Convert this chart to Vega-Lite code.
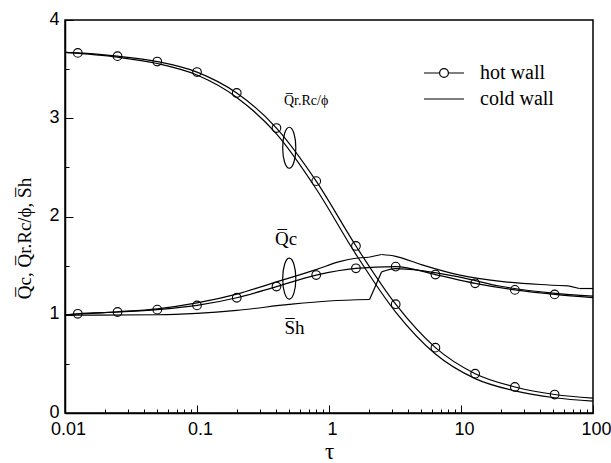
{
  "$schema": "https://vega.github.io/schema/vega-lite/v6.json",
  "width": 528,
  "height": 393,
  "autosize": "none",
  "padding": {"left": 65, "top": 20, "right": 18, "bottom": 50},
  "background": "white",
  "config": {
    "view": {"stroke": "black", "strokeWidth": 1.5},
    "axis": {"grid": false, "domainColor": "black", "domainWidth": 1.5, "tickColor": "black", "tickWidth": 1, "labelFont": "Liberation Sans", "labelFontSize": 18, "labelColor": "black", "titleFont": "Liberation Serif", "titleFontWeight": "normal", "titleColor": "black"}
  },
  "datasets": {
    "curves": [
      {"tau": 0.01, "v": 3.67, "curve": "Qr hot"},
      {"tau": 0.0125, "v": 3.665, "curve": "Qr hot"},
      {"tau": 0.025, "v": 3.632, "curve": "Qr hot"},
      {"tau": 0.05, "v": 3.577, "curve": "Qr hot"},
      {"tau": 0.1, "v": 3.47, "curve": "Qr hot"},
      {"tau": 0.2, "v": 3.257, "curve": "Qr hot"},
      {"tau": 0.4, "v": 2.9, "curve": "Qr hot"},
      {"tau": 0.8, "v": 2.36, "curve": "Qr hot"},
      {"tau": 1.6, "v": 1.7, "curve": "Qr hot"},
      {"tau": 3.2, "v": 1.107, "curve": "Qr hot"},
      {"tau": 6.4, "v": 0.665, "curve": "Qr hot"},
      {"tau": 12.8, "v": 0.4, "curve": "Qr hot"},
      {"tau": 25.6, "v": 0.265, "curve": "Qr hot"},
      {"tau": 51.2, "v": 0.188, "curve": "Qr hot"},
      {"tau": 100, "v": 0.152, "curve": "Qr hot"},
      {"tau": 0.01, "v": 3.67, "curve": "Qr cold"},
      {"tau": 0.025, "v": 3.622, "curve": "Qr cold"},
      {"tau": 0.05, "v": 3.557, "curve": "Qr cold"},
      {"tau": 0.1, "v": 3.44, "curve": "Qr cold"},
      {"tau": 0.2, "v": 3.212, "curve": "Qr cold"},
      {"tau": 0.4, "v": 2.84, "curve": "Qr cold"},
      {"tau": 0.8, "v": 2.28, "curve": "Qr cold"},
      {"tau": 1.6, "v": 1.615, "curve": "Qr cold"},
      {"tau": 3.2, "v": 1.027, "curve": "Qr cold"},
      {"tau": 6.4, "v": 0.6, "curve": "Qr cold"},
      {"tau": 12.8, "v": 0.35, "curve": "Qr cold"},
      {"tau": 25.6, "v": 0.225, "curve": "Qr cold"},
      {"tau": 51.2, "v": 0.155, "curve": "Qr cold"},
      {"tau": 100, "v": 0.12, "curve": "Qr cold"},
      {"tau": 0.01, "v": 1.0, "curve": "Qc hot"},
      {"tau": 0.0125, "v": 1.01, "curve": "Qc hot"},
      {"tau": 0.025, "v": 1.028, "curve": "Qc hot"},
      {"tau": 0.05, "v": 1.052, "curve": "Qc hot"},
      {"tau": 0.1, "v": 1.095, "curve": "Qc hot"},
      {"tau": 0.2, "v": 1.173, "curve": "Qc hot"},
      {"tau": 0.4, "v": 1.287, "curve": "Qc hot"},
      {"tau": 0.8, "v": 1.404, "curve": "Qc hot"},
      {"tau": 1.6, "v": 1.473, "curve": "Qc hot"},
      {"tau": 3.2, "v": 1.49, "curve": "Qc hot"},
      {"tau": 6.4, "v": 1.409, "curve": "Qc hot"},
      {"tau": 12.8, "v": 1.32, "curve": "Qc hot"},
      {"tau": 25.6, "v": 1.253, "curve": "Qc hot"},
      {"tau": 51.2, "v": 1.207, "curve": "Qc hot"},
      {"tau": 100, "v": 1.175, "curve": "Qc hot"},
      {"tau": 0.01, "v": 1.0, "curve": "Qc cold a"},
      {"tau": 0.025, "v": 1.03, "curve": "Qc cold a"},
      {"tau": 0.05, "v": 1.06, "curve": "Qc cold a"},
      {"tau": 0.1, "v": 1.12, "curve": "Qc cold a"},
      {"tau": 0.2, "v": 1.21, "curve": "Qc cold a"},
      {"tau": 0.4, "v": 1.335, "curve": "Qc cold a"},
      {"tau": 0.8, "v": 1.46, "curve": "Qc cold a"},
      {"tau": 1.2, "v": 1.54, "curve": "Qc cold a"},
      {"tau": 1.6, "v": 1.575, "curve": "Qc cold a"},
      {"tau": 2.0, "v": 1.585, "curve": "Qc cold a"},
      {"tau": 2.0, "v": 1.585, "curve": "Qc cold b"},
      {"tau": 2.5, "v": 1.613, "curve": "Qc cold b"},
      {"tau": 2.5, "v": 1.613, "curve": "Qc cold c"},
      {"tau": 3.2, "v": 1.595, "curve": "Qc cold c"},
      {"tau": 5, "v": 1.51, "curve": "Qc cold c"},
      {"tau": 10, "v": 1.4, "curve": "Qc cold c"},
      {"tau": 20, "v": 1.34, "curve": "Qc cold c"},
      {"tau": 40, "v": 1.308, "curve": "Qc cold c"},
      {"tau": 65, "v": 1.294, "curve": "Qc cold c"},
      {"tau": 65, "v": 1.294, "curve": "Qc cold d"},
      {"tau": 79, "v": 1.267, "curve": "Qc cold d"},
      {"tau": 79, "v": 1.267, "curve": "Qc cold e"},
      {"tau": 100, "v": 1.267, "curve": "Qc cold e"},
      {"tau": 0.01, "v": 0.995, "curve": "Sh a"},
      {"tau": 0.05, "v": 1.0, "curve": "Sh a"},
      {"tau": 0.1, "v": 1.015, "curve": "Sh a"},
      {"tau": 0.2, "v": 1.045, "curve": "Sh a"},
      {"tau": 0.5, "v": 1.105, "curve": "Sh a"},
      {"tau": 1, "v": 1.14, "curve": "Sh a"},
      {"tau": 2.03, "v": 1.155, "curve": "Sh a"},
      {"tau": 2.03, "v": 1.155, "curve": "Sh b"},
      {"tau": 2.5, "v": 1.436, "curve": "Sh b"},
      {"tau": 2.5, "v": 1.436, "curve": "Sh c"},
      {"tau": 3.2, "v": 1.47, "curve": "Sh c"},
      {"tau": 5, "v": 1.45, "curve": "Sh c"},
      {"tau": 10, "v": 1.38, "curve": "Sh c"},
      {"tau": 20, "v": 1.29, "curve": "Sh c"},
      {"tau": 50, "v": 1.22, "curve": "Sh c"},
      {"tau": 100, "v": 1.19, "curve": "Sh c"}
    ],
    "ellipses": [
      {"tau": 0.5, "v": 2.7},
      {"tau": 0.5, "v": 1.367}
    ],
    "labels": [
      {"tau": 0.456, "v": 3.18, "text": "Q̅r.Rc/ϕ", "size": 14},
      {"tau": 0.39, "v": 1.77, "text": "Q̅c", "size": 19},
      {"tau": 0.46, "v": 0.867, "text": "S̅h", "size": 19}
    ],
    "legend": [
      {"series": "hot wall"},
      {"series": "cold wall"}
    ]
  },
  "layer": [
    {
      "data": {"name": "curves"},
      "mark": {"type": "line", "interpolate": "monotone", "color": "black", "strokeWidth": 1.2},
      "encoding": {
        "x": {"field": "tau", "type": "quantitative",
          "scale": {"type": "log", "domain": [0.01, 100]},
          "axis": {"title": "τ", "titleFontSize": 23, "titleBaseline": "alphabetic", "titleY": 45,
            "values": [0.01,0.02,0.03,0.04,0.05,0.06,0.07,0.08,0.09,0.1,0.2,0.3,0.4,0.5,0.6,0.7,0.8,0.9,1,2,3,4,5,6,7,8,9,10,20,30,40,50,60,70,80,90,100],
            "format": "~g",
            "labelExpr": "indexof([0.01,0.1,1,10,100], datum.value) >= 0 ? datum.label : ''",
            "tickSize": {"condition": {"test": "indexof([0.01,0.1,1,10,100], datum.value) >= 0", "value": -8}, "value": -4},
            "labelPadding": 15, "labelOffset": 3, "labelFlush": false, "labelOverlap": false}},
        "y": {"field": "v", "type": "quantitative",
          "scale": {"domain": [0, 4]},
          "axis": {"title": "Q̅c, Q̅r.Rc/ϕ, S̅h", "titleFontSize": 19, "titleX": -31, "titleY": 218,
            "values": [0,0.5,1,1.5,2,2.5,3,3.5,4],
            "format": "~g",
            "labelExpr": "datum.value % 1 == 0 ? datum.label : ''",
            "tickSize": {"condition": {"test": "datum.value % 1 == 0", "value": -8}, "value": -4},
            "labelPadding": 14, "labelOffset": -1, "labelOverlap": false}},
        "detail": {"field": "curve"}
      }
    },
    {
      "data": {"name": "curves"},
      "transform": [{"filter": "(datum.curve == 'Qr hot' || datum.curve == 'Qc hot') && datum.tau > 0.011 && datum.tau < 99"}],
      "mark": {"type": "point", "shape": "circle", "size": 75, "stroke": "black", "strokeWidth": 1.1, "fill": null, "filled": false, "opacity": 1},
      "encoding": {
        "x": {"field": "tau", "type": "quantitative"},
        "y": {"field": "v", "type": "quantitative"}
      }
    },
    {
      "data": {"name": "ellipses"},
      "mark": {"type": "point", "shape": "M0,-1A0.32,1,0,1,1,0,1A0.32,1,0,1,1,0,-1Z", "size": 1681, "stroke": "black", "strokeWidth": 1.2, "filled": false, "opacity": 1},
      "encoding": {
        "x": {"field": "tau", "type": "quantitative"},
        "y": {"field": "v", "type": "quantitative"}
      }
    },
    {
      "data": {"name": "labels"},
      "mark": {"type": "text", "font": "Liberation Serif", "align": "left", "baseline": "middle", "color": "black"},
      "encoding": {
        "x": {"field": "tau", "type": "quantitative"},
        "y": {"field": "v", "type": "quantitative"},
        "text": {"field": "text"},
        "size": {"field": "size", "type": "quantitative", "scale": null}
      }
    },
    {
      "data": {"name": "legend"},
      "mark": {"type": "point", "opacity": 0},
      "encoding": {
        "shape": {"field": "series", "type": "nominal",
          "scale": {"domain": ["hot wall", "cold wall"], "range": ["M-2,0L-0.44,0M0.44,0L2,0M0.44,0A0.44,0.44,0,1,1,-0.44,0A0.44,0.44,0,1,1,0.44,0", "M-2,0L2,0"]},
          "legend": {"title": null, "orient": "none", "legendX": 368, "legendY": 42,
            "symbolSize": 400, "symbolStrokeColor": "black", "symbolFillColor": "transparent", "symbolStrokeWidth": 1.2, "symbolOpacity": 1,
            "labelFont": "Liberation Serif", "labelFontSize": 20, "labelColor": "black", "labelOffset": 25, "rowPadding": 5}}
      }
    }
  ]
}
